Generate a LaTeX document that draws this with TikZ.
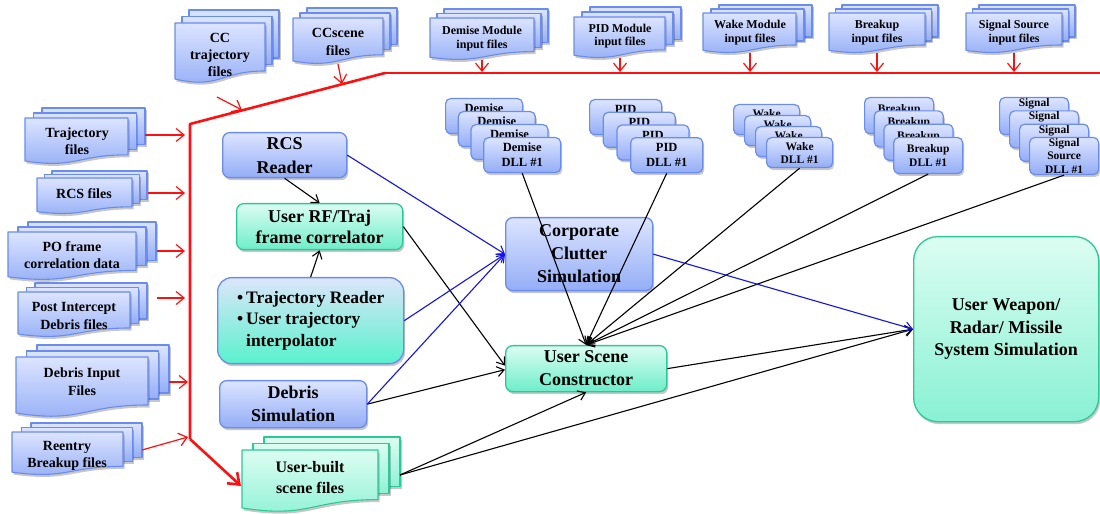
\documentclass[tikz,border=0pt]{standalone}
\usepackage{fontspec}
\setmainfont{Liberation Serif}
\usetikzlibrary{arrows.meta,shadows,calc}
\definecolor{bbord}{HTML}{6A8CEE}
\definecolor{btop}{HTML}{DCE4FF}
\definecolor{bbot}{HTML}{93ADF6}
\definecolor{gbord}{HTML}{2BC995}
\definecolor{gtop}{HTML}{DCFDF2}
\definecolor{gbot}{HTML}{6DEDC9}
\definecolor{ttop}{HTML}{DCE5FA}
\definecolor{tmid}{HTML}{C6E4DA}
\definecolor{tbot}{HTML}{58F2CD}
\definecolor{bline}{HTML}{1212EE}
\definecolor{rline}{HTML}{FF1010}
\newcommand\fsz[2]{\fontsize{#1bp}{#2bp}\selectfont\bfseries}
\tikzset{
 shd/.style={drop shadow={shadow xshift=1.5bp,shadow yshift=-2.5bp,opacity=0.22,fill=black}},
 bluebox/.style={draw=bbord,line width=1.3bp,top color=btop,bottom color=bbot,rounded corners=7bp,shd,inner sep=0pt,align=center},
 greenbox/.style={draw=gbord,line width=1.3bp,top color=gtop,bottom color=gbot,rounded corners=7bp,shd,inner sep=0pt,align=center},
 trjbox/.style={draw=bbord,line width=1.3bp,top color=ttop,middle color=tmid,bottom color=tbot,rounded corners=14bp,shd,inner sep=0pt,align=left},
 bluesheet/.style={draw=bbord,line width=1.1bp,top color=btop,bottom color=bbot,shd},
 greensheet/.style={draw=gbord,line width=1.1bp,top color=gtop,bottom color=gbot!70!gtop,shd},
 sheet/.style=bluesheet,
 doctext/.style={align=center,inner sep=0pt},
 dllbox/.style={draw=bbord,line width=1.2bp,top color=btop,bottom color=bbot,rounded corners=5bp,shd,inner sep=0pt},
 dlltext/.style={align=center,inner sep=0pt},
 redthick/.style={draw=rline,line width=2.6bp},
 redarr/.style={draw=rline,line width=1.2bp,-{Straight Barb[length=8bp,width=13bp]}},
 blkarr/.style={draw=black,line width=1.1bp,-{Straight Barb[length=7bp,width=10bp]}},
 bluarr/.style={draw=bline,line width=1.1bp,-{Straight Barb[length=7bp,width=10bp]}},
}
% multi-document stack: name, x1, y1, x2, H, dx, dy, node options, text
\newcommand\mdoc[9]{%
 \foreach \k in {2,1}{\path[sheet] ({#2+\k*#6},{#3-\k*#7}) rectangle ({#4+\k*#6},{#3-\k*#7+0.8*#5});}
 \path[sheet] (#2,#3) -- (#4,#3) -- (#4,{#3+0.8*#5}) .. controls ({(#2+#4)/2},{#3+0.8*#5}) and ({(#2+#4)/2},{#3+1.107*#5}) .. (#2,{#3+0.934*#5}) -- cycle;
 \node[doctext,#8] (#1) {#9};
}
% stack of 4 DLL boxes: name, x0, y0, w, h, dx, dy, font, text
\newcommand\dll[9]{%
 \foreach \k in {0,1,2,3}{
  \node[dllbox,minimum width={#4*1bp},minimum height={#5*1bp},anchor=north west] (#1-\k) at ({#2+\k*#6},{#3+\k*#7}) {};
  \node[dlltext,font=#8] (#1-\k t) at (#1-\k.center) {#9};
 }
}
% box: options, name, x1, y1, x2, y2, text
\newcommand\bx[7]{\node[#1,anchor=north west,minimum width={(#5-#3)*1bp},minimum height={(#6-#4)*1bp}] (#2) at (#3,#4) {#7};}

\begin{document}
\begin{tikzpicture}[x=1bp,y=-1bp,line join=round]
\useasboundingbox (0,0) rectangle (1100,514);

% ---- document stacks ----
\mdoc{cct}{175}{23}{265}{60}{7}{6.5}{at={(220,55)},font=\fsz{14}{17}}{CC\\trajectory\\files}
\mdoc{ccsc}{293}{18}{383}{46}{7}{5}{at={(338,42)},font=\fsz{14}{18}}{CCscene\\files}
\mdoc{dmi}{430}{18}{534}{42}{7}{4.5}{at={(482,38.5)},font=\fsz{12}{13.5}}{Demise Module\\input files}
\mdoc{pmi}{574}{17}{665}{41}{8}{5}{at={(620,36)},font=\fsz{12}{13.5}}{PID Module\\input files}
\mdoc{wmi}{703}{13}{796}{40}{8}{4}{at={(750,32.5)},font=\fsz{12}{13.5}}{Wake Module\\input files}
\mdoc{bmi}{829}{13}{925}{40}{6.5}{4}{at={(877,32.5)},font=\fsz{12}{13.5}}{Breakup\\input files}
\mdoc{smi}{966}{13}{1062}{40}{6.5}{4}{at={(1014,32.5)},font=\fsz{12}{13.5}}{Signal Source\\input files}

\mdoc{trf}{25}{118}{128}{46}{8.5}{5}{at={(77,141.5)},font=\fsz{14}{17}}{Trajectory\\files}
\mdoc{rcf}{37}{178}{132}{36}{7.5}{3.5}{at={(84,194)},font=\fsz{14}{17}}{RCS files}
\mdoc{pof}{8}{232}{136}{48}{10}{5}{at={(72,255.5)},font=\fsz{14}{17}}{PO frame\\correlation data}
\mdoc{pif}{18}{292}{130}{45}{8.5}{4.5}{at={(74,316)},font=\fsz{14}{18}}{Post Intercept\\Debris files}
\mdoc{dif}{16}{357}{148}{60}{10.5}{6}{at={(82,382)},font=\fsz{14}{18}}{Debris Input\\Files}
\mdoc{ref}{12}{432}{123}{43}{9.5}{4.5}{at={(67,455.5)},font=\fsz{14}{17}}{Reentry\\Breakup files}
\begin{scope}[sheet/.style=greensheet]
\mdoc{ubs}{242}{450}{378}{62}{11}{6.5}{at={(310,477.5)},font=\fsz{16}{21}}{User-built\\scene files}
\end{scope}

% ---- DLL stacks ----
\dll{ddl}{445}{98}{77}{35}{12.7}{13}{\fsz{12.5}{15}}{Demise\\DLL \#1}
\dll{pdl}{589}{99}{72}{35}{13.7}{12.7}{\fsz{12.5}{15}}{PID\\DLL \#1}
\dll{wdl}{733}{104}{66}{30}{11}{11}{\fsz{11.5}{13}}{Wake\\DLL \#1}
\dll{bdl}{864}{97}{69}{36}{9.7}{13.3}{\fsz{11.5}{14}}{Breakup\\DLL \#1}
\dll{sdl}{999}{97}{69}{37}{10}{13.3}{\fsz{11.5}{13.5}}{Signal\\Source\\DLL \#1}

% ---- main boxes ----
\bx{bluebox,font=\fsz{18}{24}}{rcs}{222}{132}{346}{177}{RCS\\Reader}
\bx{greenbox,font=\fsz{18}{21.5}}{rft}{236}{203}{402}{249}{User RF/Traj\\frame correlator}
\bx{trjbox,font=\fsz{17.5}{21.5}}{trj}{217}{277}{403}{363}{\textbullet\hspace{3bp}Trajectory Reader\\\textbullet\hspace{3bp}User trajectory\\\phantom{\textbullet\hspace{3bp}}interpolator}
\bx{bluebox,font=\fsz{18}{23}}{dbs}{219}{380}{366}{427}{Debris\\Simulation}
\bx{bluebox,font=\fsz{18}{23}}{ccs}{505}{217}{652}{290}{Corporate\\Clutter\\Simulation}
\bx{greenbox,font=\fsz{18}{23}}{usc}{505}{345}{666}{391}{User Scene\\Constructor}
\bx{greenbox,bottom color=gbot!75!gtop,rounded corners=24bp,font=\fsz{18}{22.5}}{uwp}{913}{236}{1098}{421}{User Weapon/\\Radar/ Missile\\System Simulation}

% ---- red bus ----
\coordinate (rvt) at (190,124);
\coordinate (rvb) at (190,439);
\coordinate (rtc) at (385,73);
\coordinate (rte) at (1100,73);
\coordinate (ubs-in) at (241,486);
\draw[redthick] (rvb) -- (rvt) -- (rtc);
\draw[draw=rline,line width=2.2bp] (rtc) -- (rte);
\draw[redthick,-{Straight Barb[length=10bp,width=15bp]}] (rvb) -- (ubs-in);

% targets on the bus
\coordinate (sl1) at (242,110);
\coordinate (sl2) at (342,84);
\coordinate (t1) at (482,72);
\coordinate (t2) at (620,72);
\coordinate (t3) at (750,72);
\coordinate (t4) at (877,72);
\coordinate (t5) at (1014,72);
\coordinate (rv1) at (185,135);
\coordinate (rv2) at (185,193);
\coordinate (rv3) at (185,251);
\coordinate (rv4) at (185,298);
\coordinate (rv5) at (188,382);
\coordinate (rv6) at (188,437);
% sources
\coordinate (cct-o) at (217,97);
\coordinate (ccsc-o) at (338,64);
\coordinate (dmi-o) at (482,60);
\coordinate (pmi-o) at (620,58);
\coordinate (wmi-o) at (750,53);
\coordinate (bmi-o) at (877,53);
\coordinate (smi-o) at (1014,53);
\coordinate (trf-o) at (145,135);
\coordinate (rcf-o) at (148,193);
\coordinate (pof-o) at (157,251);
\coordinate (pif-o) at (157,298);
\coordinate (dif-o) at (169,382);
\coordinate (ref-o) at (142,450);
\coordinate (ubs-o) at (400,475);

\draw[redarr] (cct-o) -- (sl1);
\draw[redarr] (ccsc-o) -- (sl2);
\draw[redarr] (dmi-o) -- (t1);
\draw[redarr] (pmi-o) -- (t2);
\draw[redarr] (wmi-o) -- (t3);
\draw[redarr] (bmi-o) -- (t4);
\draw[redarr] (smi-o) -- (t5);
\draw[redarr] (trf-o) -- (rv1);
\draw[redarr] (rcf-o) -- (rv2);
\draw[redarr] (pof-o) -- (rv3);
\draw[redarr] (pif-o) -- (rv4);
\draw[redarr] (dif-o) -- (rv5);
\draw[redarr] (ref-o) -- (rv6);

% ---- black connectors ----
\draw[blkarr] (rcs.south) -- (rft.north);
\draw[blkarr] (trj.north) -- (rft.south);
\draw[blkarr] (rft.east) -- ($(usc.west)+(0,-3)$);
\draw[blkarr] (dbs.east) -- ($(usc.west)+(0,1)$);
\draw[blkarr] (ubs-o) -- (usc.south);
\draw[blkarr] (ubs-o) -- (uwp.west);
\draw[blkarr] (usc.east) -- (uwp.west);
\foreach \n in {ddl,pdl,wdl,bdl,sdl} \draw[blkarr] (\n-3.south) -- (usc.north);

% ---- blue connectors ----
\draw[bluarr] (rcs.east) -- (ccs.west);
\draw[bluarr] (trj.east) -- (ccs.west);
\draw[bluarr] (dbs.east) -- (ccs.west);
\draw[bluarr] (ccs.east) -- (uwp.west);
\end{tikzpicture}
\end{document}
